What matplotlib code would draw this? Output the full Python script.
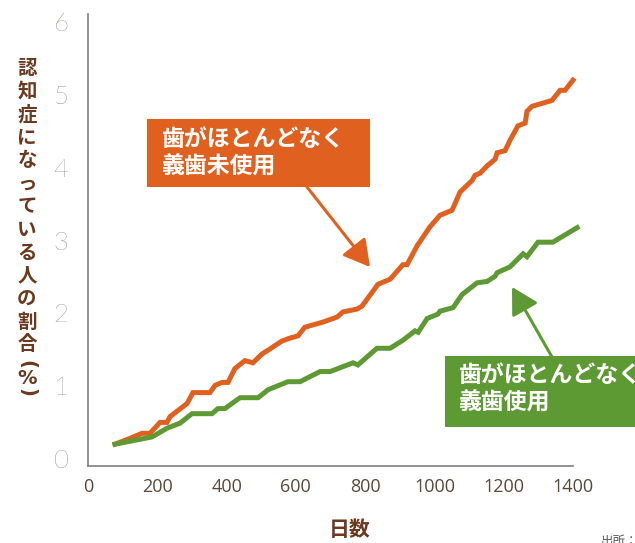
import matplotlib
matplotlib.use("Agg")
import matplotlib.pyplot as plt
from matplotlib.patches import Rectangle

plt.rcParams['font.family'] = ['Noto Sans CJK JP', 'DejaVu Sans']

# ---- data ----
days_no_denture = [78, 121, 156, 179, 208, 228, 237, 286, 303, 352, 367, 387, 404, 424, 453, 476,
                   502, 525, 560, 583, 606, 626, 678, 719, 736, 777, 791, 837, 872, 909, 921, 950,
                   987, 1016, 1051, 1074, 1109, 1117, 1132, 1152, 1175, 1181, 1204, 1218, 1241,
                   1262, 1267, 1282, 1339, 1363, 1377, 1400]
rate_no_denture = [0.19, 0.27, 0.34, 0.34, 0.49, 0.49, 0.57, 0.75, 0.90, 0.90, 1.00, 1.04, 1.04,
                   1.23, 1.34, 1.31, 1.43, 1.50, 1.61, 1.65, 1.68, 1.80, 1.87, 1.94, 2.01, 2.05,
                   2.09, 2.39, 2.46, 2.66, 2.66, 2.92, 3.18, 3.34, 3.41, 3.66, 3.82, 3.89, 3.92,
                   4.02, 4.11, 4.20, 4.23, 4.37, 4.57, 4.61, 4.77, 4.84, 4.92, 5.06, 5.06, 5.20]

days_denture = [78, 185, 228, 266, 300, 358, 375, 395, 439, 491, 520, 577, 612, 670, 699, 765,
                779, 834, 872, 909, 944, 953, 979, 1010, 1016, 1054, 1080, 1123, 1152, 1175,
                1181, 1218, 1256, 1267, 1299, 1342, 1412]
rate_denture = [0.19, 0.29, 0.41, 0.48, 0.61, 0.61, 0.68, 0.68, 0.83, 0.83, 0.94, 1.05, 1.05,
                1.19, 1.19, 1.31, 1.28, 1.51, 1.51, 1.62, 1.75, 1.73, 1.92, 1.98, 2.02, 2.07,
                2.25, 2.41, 2.43, 2.50, 2.55, 2.63, 2.81, 2.77, 2.97, 2.97, 3.17]

x_ticks = [0, 200, 400, 600, 800, 1000, 1200, 1400]
y_ticks = [0, 1, 2, 3, 4, 5, 6]
label_no_denture = ["歯がほとんどなく", "義歯未使用"]
label_denture = ["歯がほとんどなく", "義歯使用"]
y_label_chars = list("認知症になっている人の割合")
y_label_tail = ["(", "%", ")"]
x_label = "日数"
source_text = "出所："

ORANGE = "#E0601F"
GREEN = "#5E9A33"
BROWN = "#6B3A1E"
TICK_C = "#5A4838"

W, H = 635, 543
fig = plt.figure(figsize=(W / 100, H / 100), dpi=100)
ax = fig.add_axes([88 / W, 1 - 466 / H, (573 - 88) / W, (466 - 14) / H])

ax.plot(days_no_denture, rate_no_denture, color=ORANGE, lw=3.6, clip_on=False,
        solid_joinstyle='miter')
ax.plot(days_denture, rate_denture, color=GREEN, lw=3.6, clip_on=False,
        solid_joinstyle='miter')

ax.set_xlim(0, 1400)
ax.set_ylim(-0.11, 6.11)
ax.set_xticks(x_ticks)
ax.set_yticks(y_ticks)
ax.set_xticklabels([str(v) for v in x_ticks], fontsize=13, color=TICK_C,
                   family=['Open Sans', 'DejaVu Sans'])
ax.set_yticklabels([str(v) for v in y_ticks], fontsize=18.5, color=TICK_C,
                   family=['Lato', 'DejaVu Sans'], fontweight='light')
ax.tick_params(axis='x', length=0, pad=9)
ax.tick_params(axis='y', length=0, pad=14)
for s in ['top', 'right']:
    ax.spines[s].set_visible(False)
for s in ['left', 'bottom']:
    ax.spines[s].set_color('#7f7f7f')
    ax.spines[s].set_linewidth(1.2)

# y label, stacked vertically
ys = [69 + 23 * i for i in range(13)]
for ch, yy in zip(y_label_chars, ys):
    fig.text(27 / W, 1 - yy / H, ch, ha='center', va='center', fontsize=14,
             fontweight='bold', color=BROWN)
for ch, yy, rot in zip(y_label_tail, [364, 378, 392], [-90, 0, -90]):
    fig.text(27 / W, 1 - yy / H, ch, ha='center', va='center', fontsize=14,
             fontweight='bold', color=BROWN, rotation=rot, family=['DejaVu Sans'])

fig.text(350 / W, 1 - 530 / H, x_label, ha='center', va='center', fontsize=15,
         fontweight='bold', color=BROWN)
fig.text(601 / W, 1 - 541 / H, source_text, ha='left', va='center', fontsize=9,
         color='#555555')

# annotation boxes
def box(x0, y0, x1, y1, color, lines, tx, ty_list):
    fig.add_artist(Rectangle((x0 / W, 1 - y1 / H), (x1 - x0) / W, (y1 - y0) / H,
                             transform=fig.transFigure, facecolor=color,
                             edgecolor='none', clip_on=False))
    for t, ty in zip(lines, ty_list):
        fig.text(tx / W, 1 - ty / H, t, ha='left', va='center', fontsize=16.5,
                 fontweight='bold', color='white')

box(147, 119, 370, 187, ORANGE, label_no_denture, 162, [140, 167])
box(445, 356, 660, 427, GREEN, label_denture, 459, [376, 403])

ax.annotate("", xy=(370, H - 267), xycoords='figure pixels',
            xytext=(307, H - 187), textcoords='figure pixels',
            arrowprops=dict(arrowstyle='-|>,head_length=0.8,head_width=0.45',
                            color=ORANGE, lw=2.2, mutation_scale=20,
                            shrinkA=0, shrinkB=0))
ax.annotate("", xy=(512, H - 287), xycoords='figure pixels',
            xytext=(552, H - 357), textcoords='figure pixels',
            arrowprops=dict(arrowstyle='-|>,head_length=0.8,head_width=0.45',
                            color=GREEN, lw=2.2, mutation_scale=20,
                            shrinkA=0, shrinkB=0))

fig.savefig("out.png", dpi=100)
